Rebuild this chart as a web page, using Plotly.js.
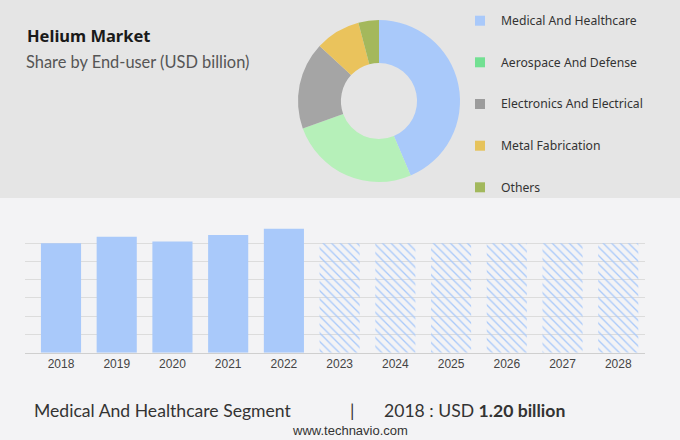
<!DOCTYPE html>
<html>
<head>
<meta charset="utf-8">
<script src="https://cdn.plot.ly/plotly-3.0.1.min.js"></script>
<style>
html,body{margin:0;padding:0;background:#f3f3f5;}
#chart{width:680px;height:440px;}
</style>
</head>
<body>
<div id="chart"></div>
<script>
// ---- data ----
var segments = ["Medical And Healthcare", "Aerospace And Defense", "Electronics And Electrical", "Metal Fabrication", "Others"];
var shares = [43.6, 25.9, 17.4, 9.0, 4.1];
var sliceColors = ["#a9c9fa", "#b6f0b9", "#a5a5a5", "#eac35c", "#a4b85c"];
var legendColors = ["#a9c9fa", "#72e092", "#9c9c9c", "#e6c35c", "#a2b85c"];

var histYears = ["2018", "2019", "2020", "2021", "2022"];
var histValues = [1.20, 1.27, 1.22, 1.29, 1.36];
var fcYears = ["2023", "2024", "2025", "2026", "2027", "2028"];
var fcValues = [1.20, 1.20, 1.20, 1.20, 1.20, 1.20];
var allYears = histYears.concat(fcYears);

// ---- helpers (pixel -> paper) ----
var W = 680, H = 440;
function px(x){ return x / W; }
function py(y){ return 1 - y / H; }

var traces = [
  {
    type: "pie",
    labels: segments,
    values: shares,
    sort: false,
    direction: "clockwise",
    rotation: 0,
    hole: 0.47,
    textinfo: "none",
    hoverinfo: "skip",
    showlegend: false,
    marker: {colors: sliceColors, line: {width: 0}},
    domain: {x: [px(298), px(460)], y: [py(182), py(20)]}
  },
  {
    type: "bar",
    x: histYears,
    y: histValues,
    width: 0.72,
    marker: {color: "#a9c9fa", line: {width: 0}},
    hoverinfo: "skip",
    showlegend: false
  },
  {
    type: "bar",
    x: fcYears,
    y: fcValues,
    width: 0.72,
    marker: {
      color: "rgba(0,0,0,0)",
      line: {width: 0},
      pattern: {shape: "\\", fgcolor: "#a9c9fa", bgcolor: "rgba(0,0,0,0)", size: 6, solidity: 0.22}
    },
    hoverinfo: "skip",
    showlegend: false
  }
];

var shapes = [
  {type: "rect", xref: "paper", yref: "paper", x0: 0, x1: 1, y0: py(198), y1: 1,
   fillcolor: "#e5e5e5", line: {width: 0}, layer: "below"}
];
var annotations = [
  {text: "<b>Helium Market</b>", x: px(25), y: py(35), xref: "paper", yref: "paper",
   xanchor: "left", yanchor: "middle", showarrow: false,
   font: {family: "Noto Sans", size: 16.5, color: "#1a1a1a"}},
  {text: "Share by End-user (USD billion)", x: px(24), y: py(61), xref: "paper", yref: "paper",
   xanchor: "left", yanchor: "middle", showarrow: false,
   font: {family: "Lato", size: 16.4, color: "#555555"}},
  {text: "Medical And Healthcare Segment", x: px(32), y: py(410), xref: "paper", yref: "paper",
   xanchor: "left", yanchor: "middle", showarrow: false,
   font: {family: "Lato", size: 17.6, color: "#333333"}},
  {text: "|", x: px(352), y: py(410), xref: "paper", yref: "paper",
   xanchor: "center", yanchor: "middle", showarrow: false,
   font: {family: "Lato", size: 17.6, color: "#333333"}},
  {text: "2018 : USD <b>1.20 billion</b>", x: px(382), y: py(410), xref: "paper", yref: "paper",
   xanchor: "left", yanchor: "middle", showarrow: false,
   font: {family: "Lato", size: 17.6, color: "#333333"}},
  {text: "www.technavio.com", x: px(350), y: py(430), xref: "paper", yref: "paper",
   xanchor: "center", yanchor: "middle", showarrow: false,
   font: {family: "Liberation Sans Narrow, Liberation Sans", size: 13, color: "#333333"}}
];
var legendY = [20.7, 62.3, 104, 145.7, 187.3];
for (var i = 0; i < segments.length; i++) {
  shapes.push({type: "rect", xref: "paper", yref: "paper",
    x0: px(475), x1: px(485), y0: py(legendY[i] + 5), y1: py(legendY[i] - 5),
    fillcolor: legendColors[i], line: {width: 0}});
  annotations.push({text: segments[i], x: px(499), y: py(legendY[i]), xref: "paper", yref: "paper",
    xanchor: "left", yanchor: "middle", showarrow: false,
    font: {family: "Noto Sans", size: 12.2, color: "#333333"}});
}

var layout = {
  width: W, height: H,
  margin: {l: 0, r: 0, t: 0, b: 0},
  paper_bgcolor: "#f3f3f5",
  plot_bgcolor: "rgba(0,0,0,0)",
  barmode: "overlay",
  showlegend: false,
  xaxis: {
    domain: [px(25), px(645)],
    type: "category",
    categoryorder: "array",
    categoryarray: allYears,
    range: [-0.646, 10.48],
    showgrid: false,
    showline: true, linecolor: "#cfcfcf", linewidth: 1,
    ticks: "",
    tickfont: {family: "Liberation Sans, Arial", size: 12, color: "#444444"},
    fixedrange: true
  },
  yaxis: {
    domain: [py(352.7), py(225)],
    range: [0, 1.4],
    dtick: 0.2,
    showgrid: true, gridcolor: "#dcdcdc", gridwidth: 1,
    zeroline: false,
    showticklabels: false,
    ticks: "",
    fixedrange: true
  },
  shapes: shapes,
  annotations: annotations
};

Plotly.newPlot("chart", traces, layout, {staticPlot: true, displayModeBar: false});
</script>
</body>
</html>
